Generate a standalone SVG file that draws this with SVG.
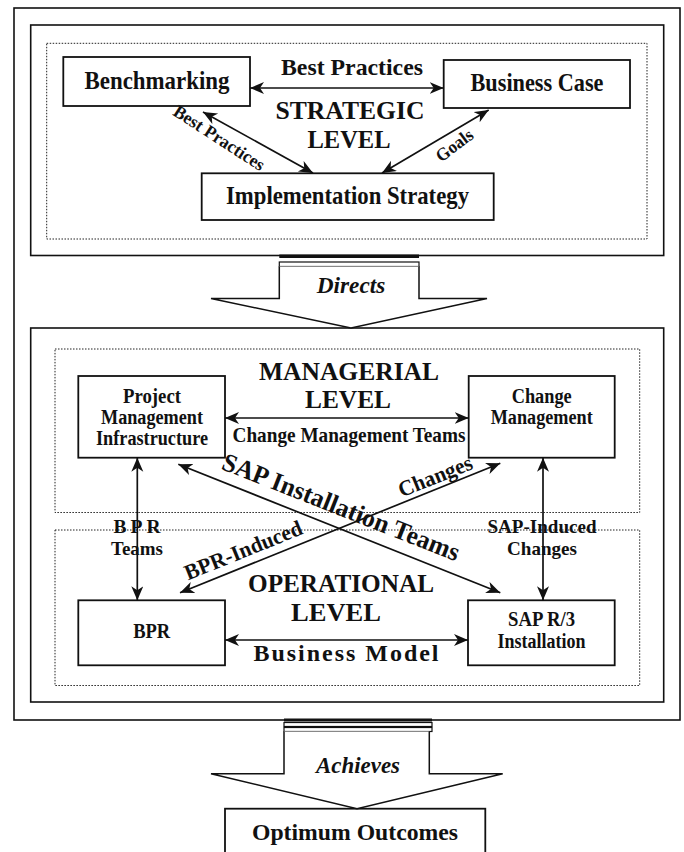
<svg xmlns="http://www.w3.org/2000/svg" width="684" height="852" viewBox="0 0 684 852">
<style>
.frame{fill:none;stroke:#111;stroke-width:1.6}
.box{fill:#fff;stroke:#111;stroke-width:1.8}
.dot{fill:none;stroke:#222;stroke-width:1;stroke-dasharray:1.5 1.5}
.arr{fill:none;stroke:#111;stroke-width:1.7;marker-start:url(#ah);marker-end:url(#ah)}
.big{fill:#fff;stroke:#111;stroke-width:1.5}
text{font-family:"Liberation Serif","Times New Roman",serif;font-weight:bold;fill:#111;text-anchor:middle}
.t25{font-size:25px}
.lvl{font-size:26px}
.t20{font-size:20px}
.ital{font-style:italic;font-size:24px}
</style>
<defs>
<marker id="ah" markerUnits="userSpaceOnUse" markerWidth="16" markerHeight="14" refX="14" refY="6" orient="auto-start-reverse">
<path d="M0,0 L14,6 L0,12 L4,6 z" fill="#111"/>
</marker>
</defs>
<rect width="684" height="852" fill="#fff"/>

<!-- frames -->
<g id="frames">
<rect class="frame" x="14" y="8" width="666" height="712"/>
<rect class="frame" x="30.7" y="25" width="633" height="230.5"/>
<rect class="dot" x="46.7" y="43.3" width="600.3" height="195.7"/>
<rect class="frame" x="30.7" y="328" width="633" height="374"/>
<rect class="dot" x="55" y="349" width="584.7" height="163.5"/>
<rect class="dot" x="55" y="530" width="584.7" height="155.5"/>
</g>

<!-- level labels -->
<g id="levels">
<text class="lvl" x="350" y="119" textLength="149" lengthAdjust="spacingAndGlyphs">STRATEGIC</text>
<text class="lvl" x="349" y="148" textLength="83" lengthAdjust="spacingAndGlyphs">LEVEL</text>
<text class="lvl" x="349" y="380" textLength="180" lengthAdjust="spacingAndGlyphs">MANAGERIAL</text>
<text class="lvl" x="348" y="408" textLength="86" lengthAdjust="spacingAndGlyphs">LEVEL</text>
<text class="lvl" x="341" y="592" textLength="186" lengthAdjust="spacingAndGlyphs">OPERATIONAL</text>
<text class="lvl" x="336" y="621" textLength="90" lengthAdjust="spacingAndGlyphs">LEVEL</text>
</g>

<!-- nodes -->
<g id="benchmarking">
<rect class="box" x="63.3" y="57" width="186.7" height="49"/>
<text class="t25" x="157" y="89" textLength="145" lengthAdjust="spacingAndGlyphs">Benchmarking</text>
</g>
<g id="business-case">
<rect class="box" x="443.7" y="60" width="186.3" height="48"/>
<text class="t25" x="537" y="91" textLength="133" lengthAdjust="spacingAndGlyphs">Business Case</text>
</g>
<g id="implementation-strategy">
<rect class="box" x="201.7" y="173.3" width="292" height="46.7"/>
<text class="t25" x="347.5" y="204" textLength="243" lengthAdjust="spacingAndGlyphs">Implementation Strategy</text>
</g>
<g id="project-management">
<rect class="box" x="78.3" y="376" width="146.7" height="81.7"/>
<text class="t20" x="152" y="403" textLength="58" lengthAdjust="spacingAndGlyphs">Project</text>
<text class="t20" x="152" y="424" textLength="102" lengthAdjust="spacingAndGlyphs">Management</text>
<text class="t20" x="152" y="445" textLength="112" lengthAdjust="spacingAndGlyphs">Infrastructure</text>
</g>
<g id="change-management">
<rect class="box" x="468.7" y="376" width="146" height="81.7"/>
<text class="t20" x="541.7" y="403" textLength="60" lengthAdjust="spacingAndGlyphs">Change</text>
<text class="t20" x="541.7" y="424" textLength="102" lengthAdjust="spacingAndGlyphs">Management</text>
</g>
<g id="bpr">
<rect class="box" x="78.3" y="600.3" width="146.7" height="65"/>
<text class="t20" x="151.7" y="638" textLength="37" lengthAdjust="spacingAndGlyphs">BPR</text>
</g>
<g id="sap-r3">
<rect class="box" x="468" y="600.3" width="146.7" height="65"/>
<text class="t20" x="541.5" y="626" textLength="67" lengthAdjust="spacingAndGlyphs">SAP R/3</text>
<text class="t20" x="541.5" y="648" textLength="88" lengthAdjust="spacingAndGlyphs">Installation</text>
</g>
<g id="optimum-outcomes">
<rect class="box" x="225" y="808.7" width="260.3" height="60"/>
<text x="355" y="840" style="font-size:24px" textLength="206" lengthAdjust="spacingAndGlyphs">Optimum Outcomes</text>
</g>

<!-- big arrows -->
<g id="directs">
<rect x="279.3" y="254.5" width="139.7" height="3.5" fill="#111"/>
<rect x="279.3" y="262" width="139.7" height="4.5" fill="#fff" stroke="#111" stroke-width="1.2"/>
<path class="big" d="M279.3,266.5 L279.3,298.5 L211,298.5 L351,328 L487,298.5 L419,298.5 L419,266.5"/>
<text class="ital" x="351" y="293" textLength="68.5" lengthAdjust="spacingAndGlyphs">Directs</text>
</g>
<g id="achieves">
<rect x="284" y="718.5" width="148" height="3" fill="#111"/>
<rect x="284" y="722.5" width="148" height="4" fill="#fff" stroke="#111" stroke-width="1.2"/>
<rect x="284" y="727.5" width="148" height="4" fill="#fff" stroke="#111" stroke-width="1.2"/>
<path class="big" d="M284,731.5 L284,773.7 L211,773.7 L357,808.7 L502.7,773.7 L429.3,773.7 L429.3,731.5"/>
<text class="ital" x="358" y="773" textLength="84" lengthAdjust="spacingAndGlyphs">Achieves</text>
</g>

<!-- connectors -->
<g id="connectors">
<line class="arr" x1="250" y1="88" x2="443.7" y2="88"/>
<line class="arr" x1="203" y1="112" x2="313" y2="173"/>
<line class="arr" x1="488.7" y1="110" x2="382" y2="173"/>
<line class="arr" x1="225" y1="418" x2="468.7" y2="418"/>
<line class="arr" x1="225" y1="640" x2="468" y2="640"/>
<line class="arr" x1="137.3" y1="457.7" x2="137.3" y2="600.3"/>
<line class="arr" x1="543" y1="457.7" x2="543" y2="600.3"/>
<line class="arr" x1="178.3" y1="464.3" x2="500.3" y2="592.7"/>
<line class="arr" x1="180" y1="592.7" x2="500.3" y2="463.3"/>
</g>

<!-- connector labels -->
<g id="connector-labels">
<text x="352" y="75" style="font-size:24px" textLength="142" lengthAdjust="spacingAndGlyphs">Best Practices</text>
<text transform="translate(216,143) rotate(33)" style="font-size:18px" textLength="105" lengthAdjust="spacingAndGlyphs">Best Practices</text>
<text transform="translate(458,150) rotate(-37)" style="font-size:18px" textLength="42" lengthAdjust="spacingAndGlyphs">Goals</text>
<text x="349" y="442" style="font-size:21px" textLength="233" lengthAdjust="spacingAndGlyphs">Change Management Teams</text>
<text transform="translate(338,515) rotate(21.5)" style="font-size:26px" textLength="253" lengthAdjust="spacingAndGlyphs">SAP Installation Teams</text>
<text transform="translate(438,483) rotate(-22)" style="font-size:22px" textLength="78" lengthAdjust="spacingAndGlyphs">Changes</text>
<text transform="translate(246,557) rotate(-22)" style="font-size:22px" textLength="125" lengthAdjust="spacingAndGlyphs">BPR-Induced</text>
<text x="137" y="533" style="font-size:19.5px" textLength="47">BPR</text>
<text x="137" y="555" style="font-size:19.5px" textLength="52" lengthAdjust="spacingAndGlyphs">Teams</text>
<text x="542" y="533" style="font-size:19.5px" textLength="109" lengthAdjust="spacingAndGlyphs">SAP-Induced</text>
<text x="542" y="555" style="font-size:19.5px" textLength="70" lengthAdjust="spacingAndGlyphs">Changes</text>
<text x="346" y="661" style="font-size:24px" textLength="185">Business Model</text>
</g>
</svg>
